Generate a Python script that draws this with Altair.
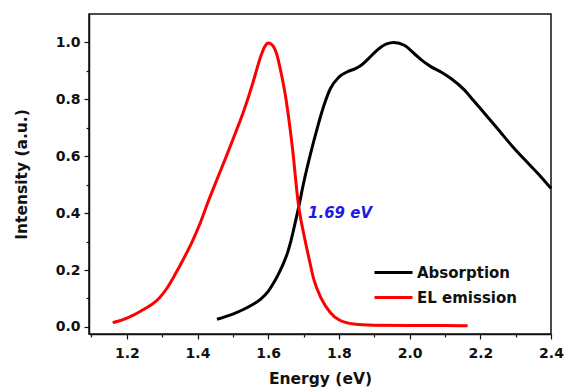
import altair as alt
import pandas as pd

# EL emission spectrum (photon energy in eV, normalised intensity)
el_energy = [1.160, 1.175, 1.200, 1.220, 1.240, 1.266, 1.290, 1.313, 1.336, 1.360,
             1.385, 1.408, 1.430, 1.455, 1.480, 1.502, 1.531, 1.545, 1.559, 1.578,
             1.590, 1.601, 1.612, 1.625, 1.637, 1.649, 1.668, 1.686, 1.700, 1.715,
             1.729, 1.750, 1.776, 1.800, 1.842, 1.900, 2.000, 2.100, 2.164]
el_intensity = [0.015, 0.020, 0.031, 0.042, 0.056, 0.075, 0.099, 0.135, 0.183, 0.238,
                0.300, 0.366, 0.440, 0.518, 0.595, 0.665, 0.760, 0.812, 0.868, 0.948,
                0.985, 0.998, 0.990, 0.955, 0.890, 0.811, 0.635, 0.425, 0.330, 0.243,
                0.167, 0.100, 0.050, 0.025, 0.010, 0.006, 0.005, 0.005, 0.004]

# Absorption spectrum
abs_energy = [1.455, 1.500, 1.531, 1.555, 1.578, 1.600, 1.616, 1.630, 1.644, 1.655,
              1.663, 1.672, 1.686, 1.700, 1.720, 1.739, 1.758, 1.776, 1.800, 1.824,
              1.845, 1.861, 1.885, 1.909, 1.935, 1.956, 1.985, 2.012, 2.035, 2.060,
              2.090, 2.117, 2.154, 2.180, 2.211, 2.240, 2.268, 2.300, 2.334, 2.370, 2.400]
abs_intensity = [0.027, 0.045, 0.062, 0.078, 0.097, 0.125, 0.156, 0.188, 0.226, 0.262,
                 0.296, 0.343, 0.420, 0.505, 0.610, 0.700, 0.780, 0.838, 0.878, 0.897,
                 0.907, 0.918, 0.945, 0.974, 0.995, 1.000, 0.990, 0.962, 0.937, 0.915,
                 0.895, 0.873, 0.834, 0.797, 0.752, 0.710, 0.668, 0.622, 0.577, 0.530, 0.487]

series_names = ["Absorption", "EL emission"]
series_colors = ["#000000", "#ff0000"]

# crossing point of the two spectra
cross_energy = [1.69]
cross_intensity = [0.43]
cross_label = ["1.69 eV"]

# labelled (major) and unlabelled (minor) tick positions
x_major_ticks = [1.2, 1.4, 1.6, 1.8, 2.0, 2.2, 2.4]
x_minor_ticks = [1.1, 1.3, 1.5, 1.7, 1.9, 2.1, 2.3]
y_major_ticks = [0.0, 0.2, 0.4, 0.6, 0.8, 1.0]
y_minor_ticks = [0.1, 0.3, 0.5, 0.7, 0.9]

spectra = pd.concat([
    pd.DataFrame({"energy": abs_energy, "intensity": abs_intensity, "series": series_names[0]}),
    pd.DataFrame({"energy": el_energy, "intensity": el_intensity, "series": series_names[1]}),
], ignore_index=True)
spectra["order"] = spectra.index

annot = pd.DataFrame({"energy": cross_energy, "intensity": cross_intensity, "label": cross_label})

FONT = "DejaVu Sans"

x_scale = alt.Scale(domain=[1.093, 2.4], nice=False, zero=False)
y_scale = alt.Scale(domain=[-0.025, 1.10], nice=False, zero=False)

x_axis = alt.Axis(
    orient="bottom", values=x_major_ticks, format=".1f", title="Energy (eV)",
    tickSize=5, labelPadding=7, titlePadding=11, grid=False,
    labelOverlap=False, labelFlush=False,
)
y_axis = alt.Axis(
    orient="left", values=y_major_ticks, format=".1f", title="Intensity (a.u.)",
    tickSize=5, labelPadding=4, titlePadding=26, grid=False,
    labelOverlap=False, labelFlush=False,
)
x_minor_axis = alt.Axis(
    orient="bottom", values=x_minor_ticks, tickSize=3, labels=False,
    domain=False, title=None, grid=False,
)
y_minor_axis = alt.Axis(
    orient="left", values=y_minor_ticks, tickSize=3, labels=False,
    domain=False, title=None, grid=False,
)

lines = alt.Chart(spectra).mark_line(strokeWidth=3, interpolate="monotone").encode(
    x=alt.X("energy:Q", scale=x_scale, axis=x_axis),
    y=alt.Y("intensity:Q", scale=y_scale, axis=y_axis),
    order="order:Q",
    color=alt.Color(
        "series:N",
        scale=alt.Scale(domain=series_names, range=series_colors),
        legend=alt.Legend(
            title=None, orient="none", legendX=284, legendY=246,
            symbolType="stroke", symbolSize=1444, symbolStrokeWidth=3,
            labelFont=FONT, labelFontWeight="bold", labelFontSize=15,
            labelColor="#111111", padding=0, labelOffset=3, rowPadding=0,
            clipHeight=25,
        ),
    ),
)

# invisible layer carrying the minor tick axes
minor = alt.Chart(spectra).mark_line(opacity=0).encode(
    x=alt.X("energy:Q", scale=x_scale, axis=x_minor_axis),
    y=alt.Y("intensity:Q", scale=y_scale, axis=y_minor_axis),
)

label = alt.Chart(annot).mark_text(
    align="left", baseline="middle", dx=8, dy=8,
    font=FONT, fontSize=15, fontWeight="bold", fontStyle="italic", color="#1a1ae6",
).encode(
    x=alt.X("energy:Q", scale=x_scale, axis=None),
    y=alt.Y("intensity:Q", scale=y_scale, axis=None),
    text="label:N",
)

chart = alt.layer(lines, minor, label).resolve_axis(
    x="independent", y="independent",
).properties(
    width=462, height=320,
    autosize=alt.AutoSizeParams(type="none"),
    padding={"left": 89, "top": 14, "right": 14, "bottom": 58},
    background="white",
).configure_view(
    stroke="#111111", strokeWidth=1.5,
).configure_axis(
    labelFont=FONT, labelFontWeight="bold", labelFontSize=14, labelColor="#111111",
    titleFont=FONT, titleFontWeight="bold", titleFontSize=15.5, titleColor="#111111",
    domainColor="#111111", domainWidth=1.5, tickColor="#111111", tickWidth=1.2,
)

chart.save("out.html", embed_options={"renderer": "svg", "actions": False})
